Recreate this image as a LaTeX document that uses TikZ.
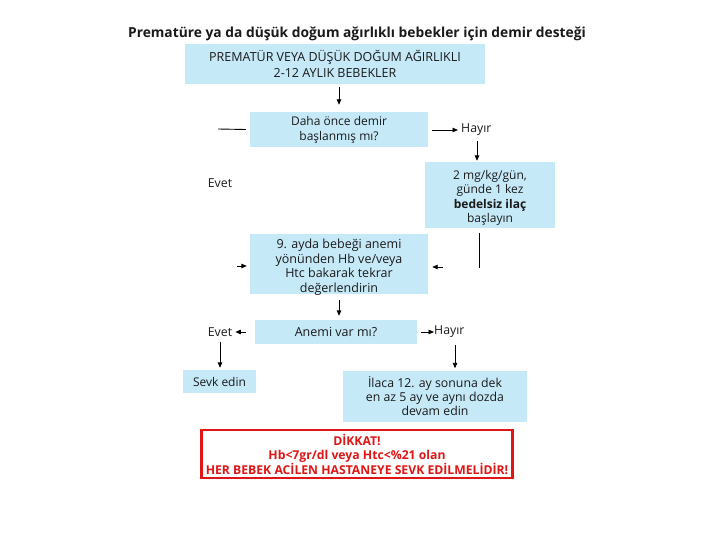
\documentclass[tikz,border=0pt]{standalone}
\usepackage{fontspec}
\setmainfont{Open Sans}
\usetikzlibrary{arrows.meta}
\definecolor{boxblue}{HTML}{C6E9F8}
\definecolor{alertred}{HTML}{E01515}
\definecolor{txt}{HTML}{1A1A1A}
\begin{document}
\begin{tikzpicture}[x=1pt,y=-1pt,
  box/.style={fill=boxblue,draw=none,inner sep=0pt,align=center,text=txt,font=\fontsize{12}{14.5}\selectfont},
  boxtext/.style={inner sep=0pt,align=center,text=txt,font=\fontsize{12}{14.5}\selectfont},
  lbl/.style={inner sep=0pt,text=txt,font=\fontsize{12.3}{14}\selectfont},
  arr/.style={line width=0.9pt,-{Triangle[length=5.5pt,width=4.5pt]}},
  ln/.style={line width=0.9pt}]
\useasboundingbox[fill=white] (0,0) rectangle (720,540);
\node[inner sep=0pt,text=txt,font=\fontsize{13.8}{16}\selectfont\bfseries] (title) at (357,34) {Prematüre ya da düşük doğum ağırlıklı bebekler için demir desteği};
\node[box,minimum width=300pt,minimum height=40pt,font=\fontsize{12.5}{16}\selectfont] (b1) at (335,64) {PREMATÜR VEYA DÜŞÜK DOĞUM AĞIRLIKLI\\2-12 AYLIK BEBEKLER};
\node[box,minimum width=178pt,minimum height=35pt,font=\fontsize{12}{15}\selectfont] (b2) at (339,129.5) {Daha önce demir\\başlanmış mı?};
\node[box,minimum width=130pt,minimum height=66pt,
  label={[boxtext,yshift=-3pt]center:{2 mg/kg/gün,\\günde 1 kez\\\textbf{bedelsiz ilaç}\\başlayın}}] (b3) at (490,195) {};
\node[box,minimum width=178pt,minimum height=60pt,
  label={[boxtext,font=\fontsize{12.5}{14.5}\selectfont,yshift=-3.5pt]center:{9. ayda bebeği anemi\\yönünden Hb ve/veya\\Htc bakarak tekrar\\değerlendirin}}] (b4) at (339,264) {};
\node[box,minimum width=162pt,minimum height=24pt,font=\fontsize{12.5}{14.5}\selectfont] (b5) at (336,332) {Anemi var mı?};
\node[box,minimum width=73pt,minimum height=23pt] (b6) at (219.5,381.5) {Sevk edin};
\node[box,minimum width=184pt,minimum height=51pt,font=\fontsize{12.3}{14.2}\selectfont] (b7) at (435,396) {İlaca 12. ay sonuna dek\\en az 5 ay ve aynı dozda\\devam edin};
\node[draw=alertred,line width=2.6pt,fill=white,minimum width=311pt,minimum height=48pt,inner sep=0pt,align=center,text=alertred,font=\fontsize{12.2}{14.5}\selectfont\bfseries] (warn) at (357,454) {DİKKAT!\\Hb<7gr/dl veya Htc<\%21 olan\\HER BEBEK ACİLEN HASTANEYE SEVK EDİLMELİDİR!};
\node[lbl] (evet1) at (220,183) {Evet};
\node[lbl,anchor=west] (hayir1) at (461,130) {Hayır};
\node[lbl] (evet2) at (220,332) {Evet};
\node[lbl,anchor=west] (hayir2) at (434,332) {Hayır};
% connectors
\draw[arr,shorten <=3pt,shorten >=7pt] (b1.south -| b2.north) -- (b2.north);
\coordinate (l1a) at (218,129);
\draw[ln] (l1a) -- ([xshift=-4pt]b2.west);
\draw[arr] ([xshift=4pt]b2.east |- hayir1.west) -- ([xshift=-3pt]hayir1.west);
\draw[arr,shorten <=5pt,shorten >=1pt] (hayir1.south -| 477,0) -- (b3.north -| 477,0);
\coordinate (v1a) at (479,233);
\coordinate (v1b) at (479,268);
\draw[ln] (v1a) -- (v1b);
\coordinate (a4r) at (443,267);
\draw[arr] (a4r) -- ([xshift=4pt]b4.east |- a4r);
\coordinate (a4l) at (237,266);
\draw[arr] (a4l) -- ([xshift=-3pt]b4.west |- a4l);
\draw[arr,shorten <=6pt,shorten >=4pt] (b4.south) -- (b4.south |- b5.north);
\draw[arr] ([xshift=-9pt]evet2.east -| b5.west) -- ([xshift=3pt]evet2.east);
\draw[arr] ([xshift=-13pt]hayir2.west) -- (hayir2.west);
\draw[arr,shorten <=5pt,shorten >=2pt] (evet2.south) -- (b6.north -| evet2.south);
\coordinate (h2d) at (455,345);
\draw[arr,shorten >=2pt] (h2d) -- (b7.north -| h2d);
\end{tikzpicture}
\end{document}
